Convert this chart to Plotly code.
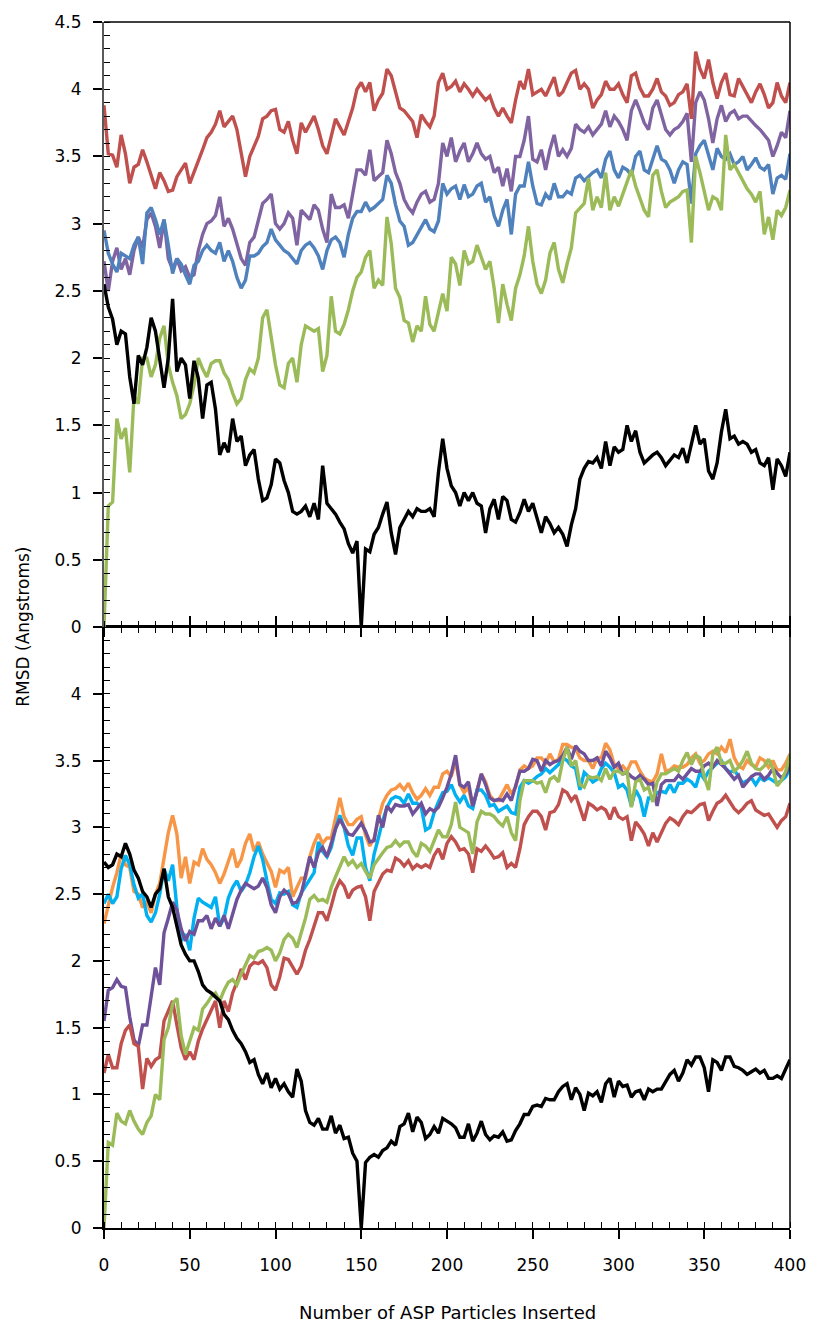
import plotly.graph_objects as go

# Number of ASP particles inserted (sampled every 2.5 insertions, 0..400)
particles = [i * 2.5 for i in range(161)]

# ---- Upper panel: RMSD (Angstroms) ----
top_red = [
    3.88, 3.52, 3.51, 3.42, 3.66, 3.52, 3.30, 3.42, 3.44, 3.55, 3.46, 3.36, 3.26, 3.38, 3.32, 3.24, 3.25, 3.35, 3.40, 3.45,
    3.30, 3.38, 3.46, 3.55, 3.64, 3.68, 3.74, 3.84, 3.72, 3.76, 3.80, 3.70, 3.52, 3.35, 3.50, 3.58, 3.65, 3.78, 3.80, 3.84,
    3.85, 3.70, 3.68, 3.76, 3.62, 3.52, 3.75, 3.68, 3.74, 3.80, 3.70, 3.58, 3.52, 3.66, 3.78, 3.72, 3.66, 3.76, 3.86, 4.00,
    4.05, 3.98, 4.05, 3.84, 3.92, 3.97, 4.15, 4.10, 3.98, 3.86, 3.84, 3.80, 3.76, 3.64, 3.81, 3.76, 3.72, 3.80, 4.05, 4.12,
    4.00, 4.02, 4.06, 3.98, 4.04, 4.00, 3.95, 4.00, 3.96, 3.92, 3.95, 3.86, 3.80, 3.86, 3.80, 3.75, 3.92, 4.06, 4.00, 4.15,
    3.96, 3.98, 4.00, 3.95, 4.02, 4.09, 3.95, 3.98, 4.05, 4.12, 4.14, 4.00, 4.04, 4.00, 3.86, 3.92, 3.96, 4.06, 4.00, 4.00,
    4.04, 3.96, 3.90, 4.10, 4.12, 4.01, 3.95, 3.95, 4.00, 4.08, 3.98, 3.95, 3.88, 3.90, 3.96, 3.98, 4.04, 3.78, 4.28, 4.15,
    4.08, 4.22, 4.05, 3.93, 4.05, 4.12, 3.96, 3.95, 4.08, 4.02, 3.96, 3.90, 3.98, 4.04, 3.96, 3.86, 3.90, 4.05, 3.95, 3.90,
    4.05]
top_purple = [
    2.72, 2.50, 2.72, 2.82, 2.66, 2.74, 2.62, 2.80, 2.90, 2.82, 3.03, 3.08, 2.98, 2.82, 3.03, 2.74, 2.66, 2.74, 2.65, 2.68,
    2.60, 2.62, 2.80, 2.92, 3.00, 3.02, 3.06, 3.20, 2.98, 3.04, 2.96, 2.84, 2.74, 2.69, 2.86, 2.90, 3.02, 3.15, 3.18, 3.22,
    3.00, 2.96, 3.00, 3.08, 3.04, 2.84, 3.10, 3.06, 3.03, 3.14, 3.10, 2.96, 2.86, 3.22, 3.12, 3.12, 3.14, 3.04, 3.22, 3.40,
    3.40, 3.36, 3.55, 3.32, 3.35, 3.38, 3.62, 3.52, 3.38, 3.30, 3.18, 3.12, 3.08, 3.16, 3.22, 3.24, 3.16, 3.18, 3.30, 3.60,
    3.50, 3.64, 3.46, 3.54, 3.60, 3.46, 3.52, 3.60, 3.52, 3.48, 3.50, 3.38, 3.42, 3.28, 3.41, 3.24, 3.50, 3.50, 3.62, 3.80,
    3.48, 3.46, 3.55, 3.40, 3.55, 3.66, 3.50, 3.55, 3.50, 3.56, 3.74, 3.70, 3.68, 3.72, 3.66, 3.70, 3.74, 3.84, 3.72, 3.80,
    3.76, 3.70, 3.62, 3.84, 3.92, 3.84, 3.75, 3.70, 3.86, 3.92, 3.80, 3.70, 3.66, 3.70, 3.72, 3.76, 3.82, 3.46, 3.90, 3.98,
    3.92, 3.78, 3.60, 3.78, 3.88, 3.76, 3.82, 3.84, 3.78, 3.80, 3.80, 3.76, 3.73, 3.70, 3.66, 3.62, 3.50, 3.58, 3.68, 3.64,
    3.84]
top_blue = [
    2.95, 2.78, 2.70, 2.64, 2.78, 2.76, 2.74, 2.84, 2.90, 2.70, 3.08, 3.12, 3.03, 2.92, 3.03, 2.84, 2.63, 2.74, 2.70, 2.62,
    2.55, 2.69, 2.72, 2.80, 2.84, 2.80, 2.78, 2.86, 2.72, 2.80, 2.72, 2.60, 2.52, 2.58, 2.76, 2.76, 2.78, 2.83, 2.86, 2.96,
    2.88, 2.84, 2.80, 2.78, 2.74, 2.70, 2.80, 2.84, 2.86, 2.82, 2.76, 2.66, 2.80, 2.88, 2.90, 2.86, 2.75, 2.92, 3.04, 3.09,
    3.09, 3.16, 3.10, 3.12, 3.15, 3.18, 3.36, 3.30, 3.14, 3.02, 2.98, 2.84, 2.86, 2.92, 2.98, 3.03, 2.96, 2.94, 3.02, 3.30,
    3.22, 3.26, 3.28, 3.18, 3.29, 3.20, 3.22, 3.28, 3.30, 3.16, 3.20, 3.06, 2.98, 3.10, 3.18, 2.92, 3.22, 3.28, 3.28, 3.46,
    3.28, 3.15, 3.14, 3.22, 3.18, 3.30, 3.20, 3.20, 3.24, 3.22, 3.34, 3.36, 3.32, 3.35, 3.38, 3.40, 3.34, 3.48, 3.54, 3.40,
    3.34, 3.42, 3.40, 3.36, 3.50, 3.54, 3.40, 3.38, 3.48, 3.58, 3.48, 3.46, 3.40, 3.30, 3.40, 3.46, 3.44, 3.15, 3.52, 3.58,
    3.62, 3.52, 3.40, 3.56, 3.50, 3.48, 3.52, 3.44, 3.46, 3.50, 3.40, 3.44, 3.49, 3.42, 3.40, 3.44, 3.22, 3.34, 3.36, 3.33,
    3.52]
top_green = [
    0.00, 0.90, 0.93, 1.55, 1.40, 1.48, 1.15, 1.72, 1.66, 2.00, 2.00, 1.86, 1.95, 2.15, 2.24, 1.95, 1.82, 1.72, 1.55, 1.58,
    1.66, 1.80, 2.00, 1.92, 1.86, 1.96, 1.98, 1.98, 1.89, 1.84, 1.74, 1.66, 1.70, 1.84, 1.92, 1.89, 2.00, 2.30, 2.36, 2.15,
    1.95, 1.80, 1.78, 1.96, 2.00, 1.82, 2.10, 2.24, 2.22, 2.20, 2.22, 1.90, 2.02, 2.46, 2.20, 2.18, 2.25, 2.36, 2.50, 2.60,
    2.64, 2.75, 2.80, 2.52, 2.58, 2.54, 3.05, 2.85, 2.52, 2.45, 2.28, 2.26, 2.12, 2.24, 2.20, 2.46, 2.25, 2.20, 2.34, 2.48,
    2.35, 2.75, 2.70, 2.54, 2.80, 2.70, 2.72, 2.84, 2.75, 2.66, 2.72, 2.52, 2.26, 2.55, 2.40, 2.28, 2.52, 2.62, 2.76, 2.98,
    2.72, 2.55, 2.48, 2.58, 2.78, 2.86, 2.66, 2.56, 2.70, 2.82, 3.08, 3.12, 3.15, 3.34, 3.10, 3.20, 3.12, 3.38, 3.10, 3.20,
    3.13, 3.22, 3.32, 3.40, 3.28, 3.18, 3.10, 3.05, 3.36, 3.40, 3.24, 3.12, 3.16, 3.18, 3.20, 3.24, 3.25, 2.86, 3.50, 3.38,
    3.24, 3.10, 3.20, 3.18, 3.10, 3.66, 3.40, 3.44, 3.38, 3.32, 3.26, 3.22, 3.16, 3.24, 2.92, 3.05, 2.88, 3.10, 3.06, 3.12,
    3.25]
top_black = [
    2.55, 2.38, 2.29, 2.10, 2.20, 2.18, 1.86, 1.66, 2.02, 1.95, 2.08, 2.30, 2.20, 2.00, 1.78, 2.00, 2.44, 1.90, 2.00, 1.95,
    1.70, 1.98, 1.85, 1.55, 1.80, 1.82, 1.62, 1.28, 1.37, 1.30, 1.55, 1.38, 1.42, 1.20, 1.28, 1.32, 1.10, 0.94, 0.96, 1.06,
    1.25, 1.22, 1.09, 1.00, 0.86, 0.84, 0.86, 0.90, 0.82, 0.92, 0.80, 1.20, 0.92, 0.88, 0.84, 0.78, 0.73, 0.62, 0.55, 0.64,
    0.00, 0.58, 0.56, 0.69, 0.74, 0.84, 0.93, 0.70, 0.54, 0.74, 0.80, 0.86, 0.82, 0.88, 0.86, 0.86, 0.88, 0.82, 1.15, 1.40,
    1.18, 1.05, 1.00, 0.90, 1.00, 0.94, 1.00, 0.92, 0.90, 0.70, 0.88, 0.95, 0.80, 0.97, 0.94, 0.80, 0.78, 0.85, 0.95, 0.86,
    0.92, 0.82, 0.70, 0.82, 0.77, 0.70, 0.74, 0.69, 0.60, 0.76, 0.88, 1.10, 1.18, 1.23, 1.22, 1.26, 1.18, 1.38, 1.20, 1.34,
    1.30, 1.32, 1.50, 1.38, 1.46, 1.30, 1.22, 1.25, 1.28, 1.30, 1.26, 1.20, 1.24, 1.28, 1.26, 1.33, 1.22, 1.35, 1.50, 1.36,
    1.40, 1.16, 1.10, 1.22, 1.45, 1.62, 1.40, 1.42, 1.36, 1.38, 1.36, 1.30, 1.32, 1.22, 1.20, 1.26, 1.02, 1.25, 1.20, 1.12,
    1.30]

# ---- Lower panel: RMSD (Angstroms) ----
bot_orange = [
    2.28, 2.42, 2.55, 2.66, 2.80, 2.72, 2.70, 2.52, 2.50, 2.40, 2.44, 2.36, 2.50, 2.58, 2.78, 2.96, 3.09, 2.95, 2.62, 2.78,
    2.58, 2.74, 2.72, 2.84, 2.76, 2.72, 2.66, 2.58, 2.65, 2.74, 2.84, 2.70, 2.76, 2.88, 2.95, 2.82, 2.89, 2.80, 2.74, 2.67,
    2.55, 2.68, 2.66, 2.70, 2.48, 2.55, 2.62, 2.62, 2.78, 2.88, 2.95, 2.88, 2.92, 2.92, 3.08, 3.22, 3.08, 3.02, 3.02, 3.06,
    3.08, 2.94, 2.86, 2.92, 3.06, 3.18, 3.24, 3.28, 3.29, 3.32, 3.28, 3.33, 3.26, 3.21, 3.24, 3.29, 3.24, 3.30, 3.30, 3.40,
    3.42, 3.38, 3.50, 3.32, 3.26, 3.30, 3.15, 3.28, 3.40, 3.34, 3.24, 3.20, 3.20, 3.26, 3.32, 3.25, 3.30, 3.43, 3.46, 3.44,
    3.46, 3.52, 3.52, 3.48, 3.55, 3.49, 3.51, 3.62, 3.62, 3.60, 3.59, 3.52, 3.50, 3.50, 3.44, 3.52, 3.52, 3.63, 3.58, 3.47,
    3.44, 3.46, 3.42, 3.49, 3.49, 3.42, 3.37, 3.35, 3.34, 3.40, 3.55, 3.42, 3.43, 3.46, 3.45, 3.45, 3.47, 3.52, 3.55, 3.48,
    3.50, 3.55, 3.57, 3.55, 3.60, 3.56, 3.66, 3.52, 3.46, 3.44, 3.50, 3.47, 3.45, 3.52, 3.50, 3.45, 3.50, 3.43, 3.43, 3.48,
    3.55]
bot_cyan = [
    2.43, 2.50, 2.43, 2.48, 2.69, 2.79, 2.72, 2.57, 2.47, 2.50, 2.34, 2.29, 2.36, 2.50, 2.69, 2.60, 2.72, 2.40, 2.15, 2.20,
    2.08, 2.32, 2.47, 2.44, 2.42, 2.40, 2.48, 2.26, 2.32, 2.47, 2.55, 2.60, 2.52, 2.57, 2.66, 2.78, 2.86, 2.76, 2.60, 2.46,
    2.43, 2.51, 2.50, 2.52, 2.42, 2.40, 2.51, 2.56, 2.60, 2.66, 2.89, 2.82, 2.78, 2.85, 2.99, 3.09, 3.00, 2.86, 2.79, 2.92,
    2.92, 2.70, 2.60, 2.80, 2.92, 3.05, 3.15, 3.21, 3.23, 3.22, 3.18, 3.25, 3.18, 3.18, 3.15, 2.98, 3.00, 3.11, 3.19, 3.26,
    3.27, 3.32, 3.24, 3.19, 3.24, 3.16, 3.14, 3.28, 3.28, 3.24, 3.16, 3.17, 3.12, 3.14, 3.16, 3.11, 3.10, 3.30, 3.35, 3.33,
    3.35, 3.38, 3.40, 3.44, 3.41, 3.44, 3.47, 3.52, 3.50, 3.46, 3.44, 3.28, 3.41, 3.38, 3.34, 3.36, 3.44, 3.48, 3.45, 3.41,
    3.30, 3.32, 3.28, 3.16, 3.28, 3.22, 3.08, 3.22, 3.22, 3.26, 3.27, 3.26, 3.32, 3.26, 3.33, 3.33, 3.36, 3.34, 3.30, 3.41,
    3.36, 3.42, 3.45, 3.48, 3.50, 3.44, 3.41, 3.43, 3.38, 3.33, 3.35, 3.37, 3.32, 3.37, 3.35, 3.37, 3.35, 3.33, 3.35, 3.38,
    3.44]
bot_purple = [
    1.55, 1.78, 1.80, 1.86, 1.81, 1.80, 1.58, 1.41, 1.36, 1.52, 1.52, 1.73, 1.95, 1.82, 2.21, 2.32, 2.44, 2.38, 2.24, 2.15,
    2.22, 2.20, 2.30, 2.30, 2.34, 2.24, 2.32, 2.26, 2.34, 2.24, 2.36, 2.46, 2.53, 2.58, 2.56, 2.54, 2.56, 2.62, 2.55, 2.42,
    2.36, 2.48, 2.53, 2.50, 2.43, 2.44, 2.50, 2.64, 2.78, 2.70, 2.81, 2.85, 2.78, 2.88, 2.99, 3.06, 3.00, 2.95, 2.94, 2.99,
    3.03, 2.97, 2.89, 2.90, 3.09, 3.00, 3.16, 3.12, 3.17, 3.16, 3.16, 3.17, 3.10, 3.14, 3.18, 3.10, 3.14, 3.12, 3.15, 3.22,
    3.30, 3.40, 3.54, 3.32, 3.30, 3.34, 3.16, 3.27, 3.40, 3.32, 3.22, 3.20, 3.21, 3.20, 3.25, 3.20, 3.30, 3.42, 3.42, 3.44,
    3.51, 3.50, 3.42, 3.50, 3.47, 3.49, 3.50, 3.54, 3.60, 3.51, 3.61, 3.57, 3.55, 3.50, 3.50, 3.52, 3.46, 3.57, 3.52, 3.45,
    3.48, 3.40, 3.41, 3.38, 3.36, 3.39, 3.36, 3.32, 3.33, 3.16, 3.32, 3.35, 3.35, 3.35, 3.39, 3.36, 3.40, 3.44, 3.42, 3.42,
    3.46, 3.48, 3.45, 3.50, 3.47, 3.44, 3.40, 3.36, 3.39, 3.30, 3.34, 3.38, 3.40, 3.40, 3.36, 3.39, 3.44, 3.40, 3.37, 3.40,
    3.48]
bot_red = [
    1.16, 1.30, 1.20, 1.20, 1.38, 1.48, 1.52, 1.38, 1.36, 1.04, 1.27, 1.21, 1.26, 1.28, 1.55, 1.62, 1.70, 1.52, 1.35, 1.26,
    1.32, 1.26, 1.40, 1.49, 1.56, 1.64, 1.70, 1.50, 1.70, 1.62, 1.76, 1.84, 1.94, 1.86, 1.96, 1.99, 1.98, 2.00, 1.95, 1.82,
    1.78, 1.88, 2.02, 2.01, 1.96, 1.90, 1.96, 2.08, 2.16, 2.26, 2.36, 2.36, 2.30, 2.41, 2.53, 2.60, 2.56, 2.47, 2.53, 2.55,
    2.56, 2.48, 2.30, 2.52, 2.59, 2.65, 2.68, 2.67, 2.77, 2.75, 2.71, 2.75, 2.69, 2.72, 2.70, 2.72, 2.70, 2.79, 2.84, 2.76,
    2.88, 2.93, 2.89, 2.83, 2.84, 2.80, 2.66, 2.84, 2.82, 2.86, 2.82, 2.77, 2.78, 2.81, 2.70, 2.73, 2.70, 2.84, 3.02, 3.08,
    3.12, 3.12, 3.08, 2.98, 3.11, 3.12, 3.17, 3.28, 3.26, 3.20, 3.24, 3.14, 3.05, 3.18, 3.16, 3.13, 3.15, 3.13, 3.06, 3.15,
    3.08, 3.06, 3.08, 2.90, 3.04, 3.00, 2.95, 2.86, 2.96, 2.89, 2.96, 3.03, 3.07, 3.05, 3.02, 3.08, 3.12, 3.11, 3.14, 3.17,
    3.18, 3.05, 3.12, 3.18, 3.20, 3.24, 3.19, 3.14, 3.11, 3.14, 3.18, 3.20, 3.13, 3.11, 3.09, 3.10, 3.05, 3.00, 3.05, 3.08,
    3.18]
bot_green = [
    0.00, 0.64, 0.62, 0.86, 0.80, 0.78, 0.88, 0.80, 0.74, 0.70, 0.79, 0.84, 1.00, 0.96, 1.41, 1.50, 1.68, 1.72, 1.44, 1.30,
    1.40, 1.50, 1.48, 1.64, 1.68, 1.73, 1.76, 1.70, 1.78, 1.84, 1.86, 1.82, 1.90, 1.97, 2.04, 2.02, 2.07, 2.08, 2.10, 2.08,
    2.00, 2.06, 2.16, 2.20, 2.17, 2.10, 2.20, 2.32, 2.46, 2.49, 2.45, 2.46, 2.44, 2.55, 2.63, 2.70, 2.78, 2.72, 2.75, 2.70,
    2.73, 2.67, 2.62, 2.72, 2.77, 2.81, 2.85, 2.86, 2.90, 2.86, 2.89, 2.89, 2.82, 2.78, 2.88, 2.86, 2.82, 2.90, 2.98, 2.93,
    2.93, 3.02, 3.19, 3.00, 2.98, 2.96, 2.80, 3.04, 3.12, 3.10, 3.10, 3.08, 3.04, 3.01, 3.08, 2.96, 2.90, 3.20, 3.35, 3.35,
    3.35, 3.33, 3.34, 3.26, 3.36, 3.38, 3.34, 3.50, 3.60, 3.46, 3.50, 3.32, 3.30, 3.38, 3.37, 3.38, 3.35, 3.44, 3.36, 3.42,
    3.42, 3.40, 3.42, 3.15, 3.34, 3.36, 3.28, 3.30, 3.19, 3.34, 3.40, 3.40, 3.42, 3.44, 3.42, 3.50, 3.56, 3.47, 3.54, 3.52,
    3.38, 3.28, 3.55, 3.60, 3.48, 3.48, 3.50, 3.42, 3.45, 3.50, 3.57, 3.48, 3.44, 3.43, 3.46, 3.51, 3.44, 3.31, 3.35, 3.42,
    3.54]
bot_black = [
    2.74, 2.70, 2.72, 2.80, 2.78, 2.88, 2.80, 2.68, 2.62, 2.52, 2.48, 2.40, 2.50, 2.54, 2.69, 2.48, 2.40, 2.26, 2.12, 2.05,
    2.00, 2.00, 1.92, 1.82, 1.78, 1.76, 1.73, 1.70, 1.60, 1.56, 1.48, 1.42, 1.38, 1.32, 1.24, 1.26, 1.15, 1.08, 1.16, 1.05,
    1.12, 1.04, 1.08, 1.02, 0.98, 1.19, 1.10, 0.88, 0.79, 0.77, 0.82, 0.74, 0.74, 0.84, 0.71, 0.77, 0.67, 0.68, 0.56, 0.50,
    0.00, 0.49, 0.53, 0.55, 0.53, 0.58, 0.60, 0.65, 0.62, 0.76, 0.78, 0.86, 0.72, 0.83, 0.79, 0.67, 0.70, 0.76, 0.71, 0.82,
    0.80, 0.78, 0.75, 0.68, 0.68, 0.78, 0.65, 0.71, 0.80, 0.70, 0.66, 0.69, 0.68, 0.72, 0.65, 0.66, 0.73, 0.78, 0.85, 0.85,
    0.91, 0.92, 0.91, 0.97, 0.96, 0.96, 1.02, 1.06, 1.08, 0.96, 1.05, 1.00, 0.88, 1.01, 0.99, 1.02, 0.94, 1.08, 1.12, 0.98,
    1.10, 1.06, 1.07, 0.98, 1.02, 1.03, 0.96, 1.04, 1.02, 1.04, 1.04, 1.10, 1.15, 1.18, 1.10, 1.16, 1.26, 1.22, 1.28, 1.28,
    1.20, 1.02, 1.26, 1.24, 1.18, 1.28, 1.28, 1.21, 1.20, 1.18, 1.15, 1.17, 1.19, 1.16, 1.18, 1.12, 1.12, 1.14, 1.12, 1.19,
    1.26]

y_ticks_top = [0, 0.5, 1, 1.5, 2, 2.5, 3, 3.5, 4, 4.5]
y_ticks_bottom = [0, 0.5, 1, 1.5, 2, 2.5, 3, 3.5, 4]
x_ticks = [0, 50, 100, 150, 200, 250, 300, 350, 400]

FONT = "DejaVu Sans"
LINE_W = 3.4
fig = go.Figure()

top_series = [(top_purple, "#8064A2"), (top_blue, "#4F81BD"),
              (top_green, "#9BBB59"), (top_red, "#C0504D"),
              (top_black, "#000000")]
bottom_series = [(bot_orange, "#F79646"), (bot_cyan, "#00B0F0"),
                 (bot_purple, "#6E5199"), (bot_red, "#C0504D"),
                 (bot_green, "#9BBB59"), (bot_black, "#000000")]

for vals, col in top_series:
    fig.add_trace(go.Scatter(x=particles[:len(vals)], y=vals, mode="lines",
                             line=dict(color=col, width=LINE_W),
                             xaxis="x2", yaxis="y2", showlegend=False))
for vals, col in bottom_series:
    fig.add_trace(go.Scatter(x=particles[:len(vals)], y=vals, mode="lines",
                             line=dict(color=col, width=LINE_W),
                             xaxis="x", yaxis="y", showlegend=False))

split = 601 / 1206

common_x = dict(range=[0, 400], tickvals=x_ticks, showgrid=False, zeroline=False,
                showline=True, linecolor="#000000",
                ticks="outside", ticklen=9, tickwidth=1.5, tickcolor="#000000",
                minor=dict(dtick=10, ticks="inside", ticklen=6, tickwidth=1,
                           tickcolor="#000000", showgrid=False))
common_y = dict(range=[0, 4.5], showgrid=False, zeroline=False,
                showline=True, linewidth=2,
                ticks="outside", ticklen=9, tickwidth=1.5, tickcolor="#000000",
                minor=dict(dtick=0.1, ticks="inside", ticklen=6, tickwidth=1,
                           tickcolor="#000000", showgrid=False),
                tickfont=dict(family=FONT, size=17, color="#000000"),
                ticklabelstandoff=8)

fig.update_layout(
    width=818, height=1326,
    margin=dict(l=104, r=22, t=22, b=98),
    paper_bgcolor="white", plot_bgcolor="white",
    xaxis=dict(**common_x, linewidth=2, domain=[0, 1], anchor="y", mirror="ticks",
               tickfont=dict(family=FONT, size=17, color="#000000"),
               ticklabelstandoff=12),
    yaxis=dict(**common_y, domain=[0, split], anchor="x",
               tickvals=y_ticks_bottom, linecolor="#000000"),
    xaxis2=dict(**common_x, linewidth=1, domain=[0, 1], anchor="y2", matches="x",
                showticklabels=False),
    yaxis2=dict(**common_y, domain=[split, 1], anchor="x2",
                tickvals=y_ticks_top, linecolor="#595959"),
    shapes=[
        dict(type="line", xref="paper", yref="paper", x0=1, x1=1, y0=0, y1=1,
             line=dict(color="#000000", width=1.5)),
        dict(type="line", xref="paper", yref="paper", x0=0, x1=1, y0=1, y1=1,
             line=dict(color="#000000", width=1.5)),
    ],
    annotations=[
        dict(text="RMSD (Angstroms)", xref="paper", yref="paper",
             x=-0.1185, y=split, xanchor="center", yanchor="middle",
             textangle=-90, showarrow=False,
             font=dict(family=FONT, size=17, color="#000000")),
        dict(text="Number of ASP Particles Inserted", xref="paper", yref="paper",
             x=0.5, y=-0.0697, xanchor="center", yanchor="middle",
             showarrow=False,
             font=dict(family=FONT, size=18, color="#000000")),
    ],
)

fig.write_html("out.html")
